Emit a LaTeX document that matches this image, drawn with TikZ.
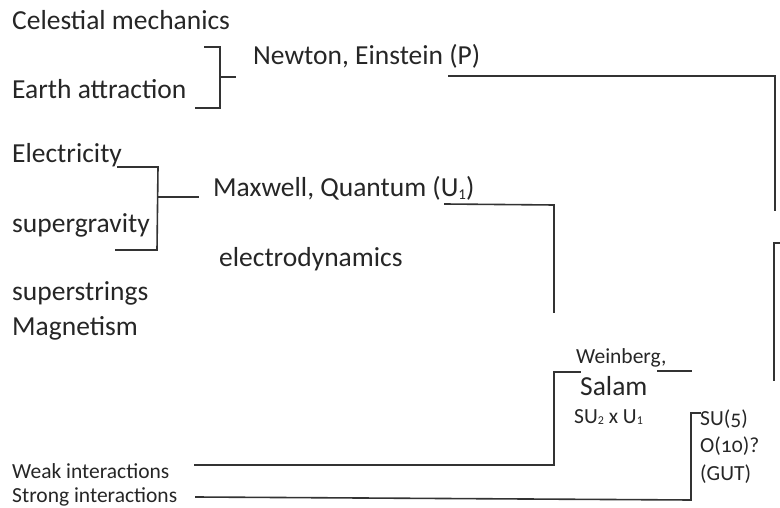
\documentclass[tikz,border=0pt]{standalone}
\usepackage{fontspec}
\setmainfont{Carlito}
\newfontfamily\oldnum[Numbers=OldStyle]{Carlito}
\newcommand\lowsub[2]{\raisebox{-0.08em}{\fontsize{#1}{#1}\selectfont #2}}
\begin{document}
\begin{tikzpicture}[x=1pt,y=-1pt,
  big/.style={inner sep=0pt,anchor=base west,font=\fontsize{27.5}{32}\selectfont,text=black!85},
  small/.style={inner sep=0pt,anchor=base west,font=\fontsize{21.5}{25}\selectfont,text=black!85},
  wire/.style={line width=1.6pt,draw=black!80,line cap=rect}]
\useasboundingbox (0,0) rectangle (780,508);
% left column
\node[big] (cel) at (12,30) {Celestial mechanics};
\node[big] (ear) at (12,99) {Earth attraction};
\node[big] (ele) at (12,163) {Electricity};
\node[big] (sug) at (12,233) {supergravity};
\node[big] (sus) at (12,301) {superstrings};
\node[big] (mag) at (12,335) {Magnetism};
\node[small] (weak) at (12,478) {Weak interactions};
\node[small] (strong) at (12,502) {Strong interactions};
% middle
\node[big] (newt) at (253,65) {Newton, Einstein (P)};
\node[big] (maxw) at (213,197) {Maxwell, Quantum (U\lowsub{15}{1})};
\node[big] (edyn) at (219,266) {electrodynamics};
\node[small] (wein) at (576,363) {Weinberg,};
\node[big] (sal) at (580,395) {Salam};
\node[small] (su2) at (574,423) {SU\lowsub{12}{2} x U\lowsub{12}{1}};
\node[small] (su5) at (700,425) {\oldnum SU(5)};
\node[small] (o10) at (700,452) {\oldnum O(10)?};
\node[small] (gut) at (700,480) {(GUT)};
% coordinates
\coordinate (b1a) at (205,47); \coordinate (b1b) at (220,47);
\coordinate (b1c) at (220,108); \coordinate (b1d) at (196,108);
\coordinate (b1m) at (220,77); \coordinate (b1t) at (235,77);
\coordinate (p1) at (449,76); \coordinate (p2) at (775,76); \coordinate (p3) at (775,210);
\coordinate (q1) at (779,243); \coordinate (q2) at (774,243); \coordinate (q3) at (774,380);
\coordinate (b2a) at (118,167); \coordinate (b2b) at (158,167);
\coordinate (b2c) at (157,250); \coordinate (b2d) at (116,250);
\coordinate (b2m) at (159,197); \coordinate (b2t) at (198,197);
\coordinate (u1) at (445,204); \coordinate (u2) at (554,205); \coordinate (u3) at (554,312);
\coordinate (w1) at (195,465); \coordinate (w2) at (554,465);
\coordinate (w3) at (554,372); \coordinate (w4) at (580,372);
\coordinate (w5) at (658,371); \coordinate (w6) at (691,371);
\coordinate (s1) at (196,497); \coordinate (s2) at (691,500);
\coordinate (s3) at (691,413); \coordinate (s4) at (700,413);
% lines
\draw[wire] (b1a) -- (b1b) -- (b1c) -- (b1d);
\draw[wire] (b1m) -- (b1t);
\draw[wire] (p1) -- (p2) -- (p3);
\draw[wire] (q1) -- (q2) -- (q3);
\draw[wire] (b2a) -- (b2b) -- (b2c) -- (b2d);
\draw[wire] (b2m) -- (b2t);
\draw[wire] (u1) -- (u2) -- (u3);
\draw[wire] (w1) -- (w2) -- (w3) -- (w4);
\draw[wire] (w5) -- (w6);
\draw[wire] (s1) -- (s2) -- (s3) -- (s4);
\end{tikzpicture}
\end{document}
